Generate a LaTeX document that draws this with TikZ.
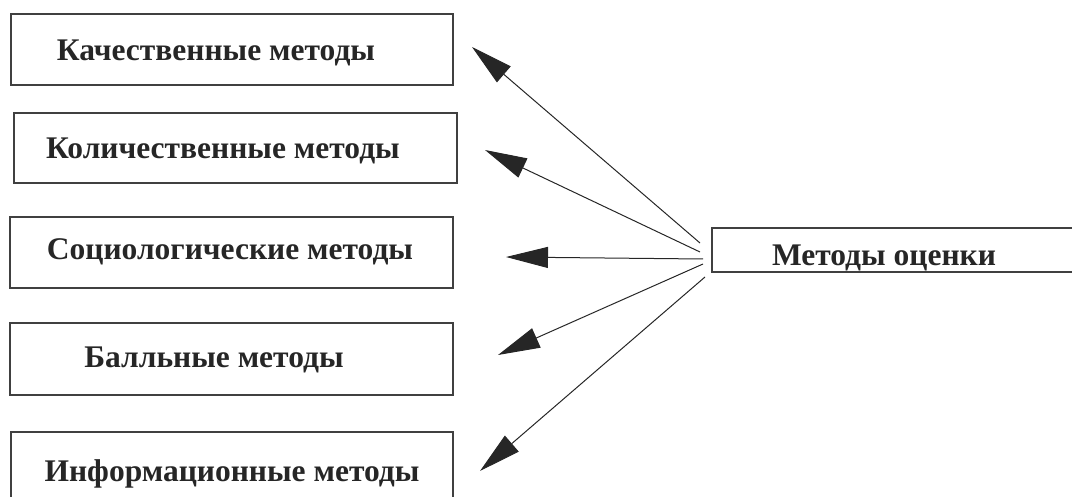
\documentclass[tikz,border=0pt]{standalone}
\usepackage{fontspec}
\setmainfont{Liberation Serif}
\usetikzlibrary{arrows.meta}
\tikzset{
  box/.style={draw=black!75, line width=1.4pt, fill=none},
  lbl/.style={font=\fontsize{31.5}{36}\selectfont\bfseries, text=black!85, inner sep=0pt},
  conn/.style={draw=black!85, line width=1pt, -{Triangle[length=42pt,width=21pt]}}
}
\begin{document}
\begin{tikzpicture}[x=1pt,y=-1pt]
\useasboundingbox (0,0) rectangle (1072,497);
% boxes
\draw[box] (11,14) rectangle (453,85) coordinate (b1);
\draw[box] (14,113) rectangle (457,183) coordinate (b2);
\draw[box] (10,217) rectangle (453,288) coordinate (b3);
\draw[box] (10,323) rectangle (453,395) coordinate (b4);
\draw[box] (11,432) rectangle (453,505) coordinate (b5);
\draw[box] (712,228) rectangle (1080,272) coordinate (m);
% labels
\node[lbl] (t1) at (216,53) {Качественные методы};
\node[lbl] (t2) at (223,151) {Количественные методы};
\node[lbl] (t3) at (230,252) {Социологические методы};
\node[lbl] (t4) at (214,360) {Балльные методы};
\node[lbl] (t5) at (232,474) {Информационные методы};
\node[lbl] (tm) at (884,258) {Методы оценки};
% hub points and tips
\coordinate (s1) at (700,243);
\coordinate (s2) at (700,252);
\coordinate (s3) at (703,259);
\coordinate (s4) at (703,264);
\coordinate (s5) at (705,277);
\coordinate (e1) at (472,47);
\coordinate (e2) at (485,150);
\coordinate (e3) at (506,257);
\coordinate (e4) at (498,355);
\coordinate (e5) at (480,471);
\draw[conn] (s1) -- (e1);
\draw[conn] (s2) -- (e2);
\draw[conn] (s3) -- (e3);
\draw[conn] (s4) -- (e4);
\draw[conn] (s5) -- (e5);
\end{tikzpicture}
\end{document}
